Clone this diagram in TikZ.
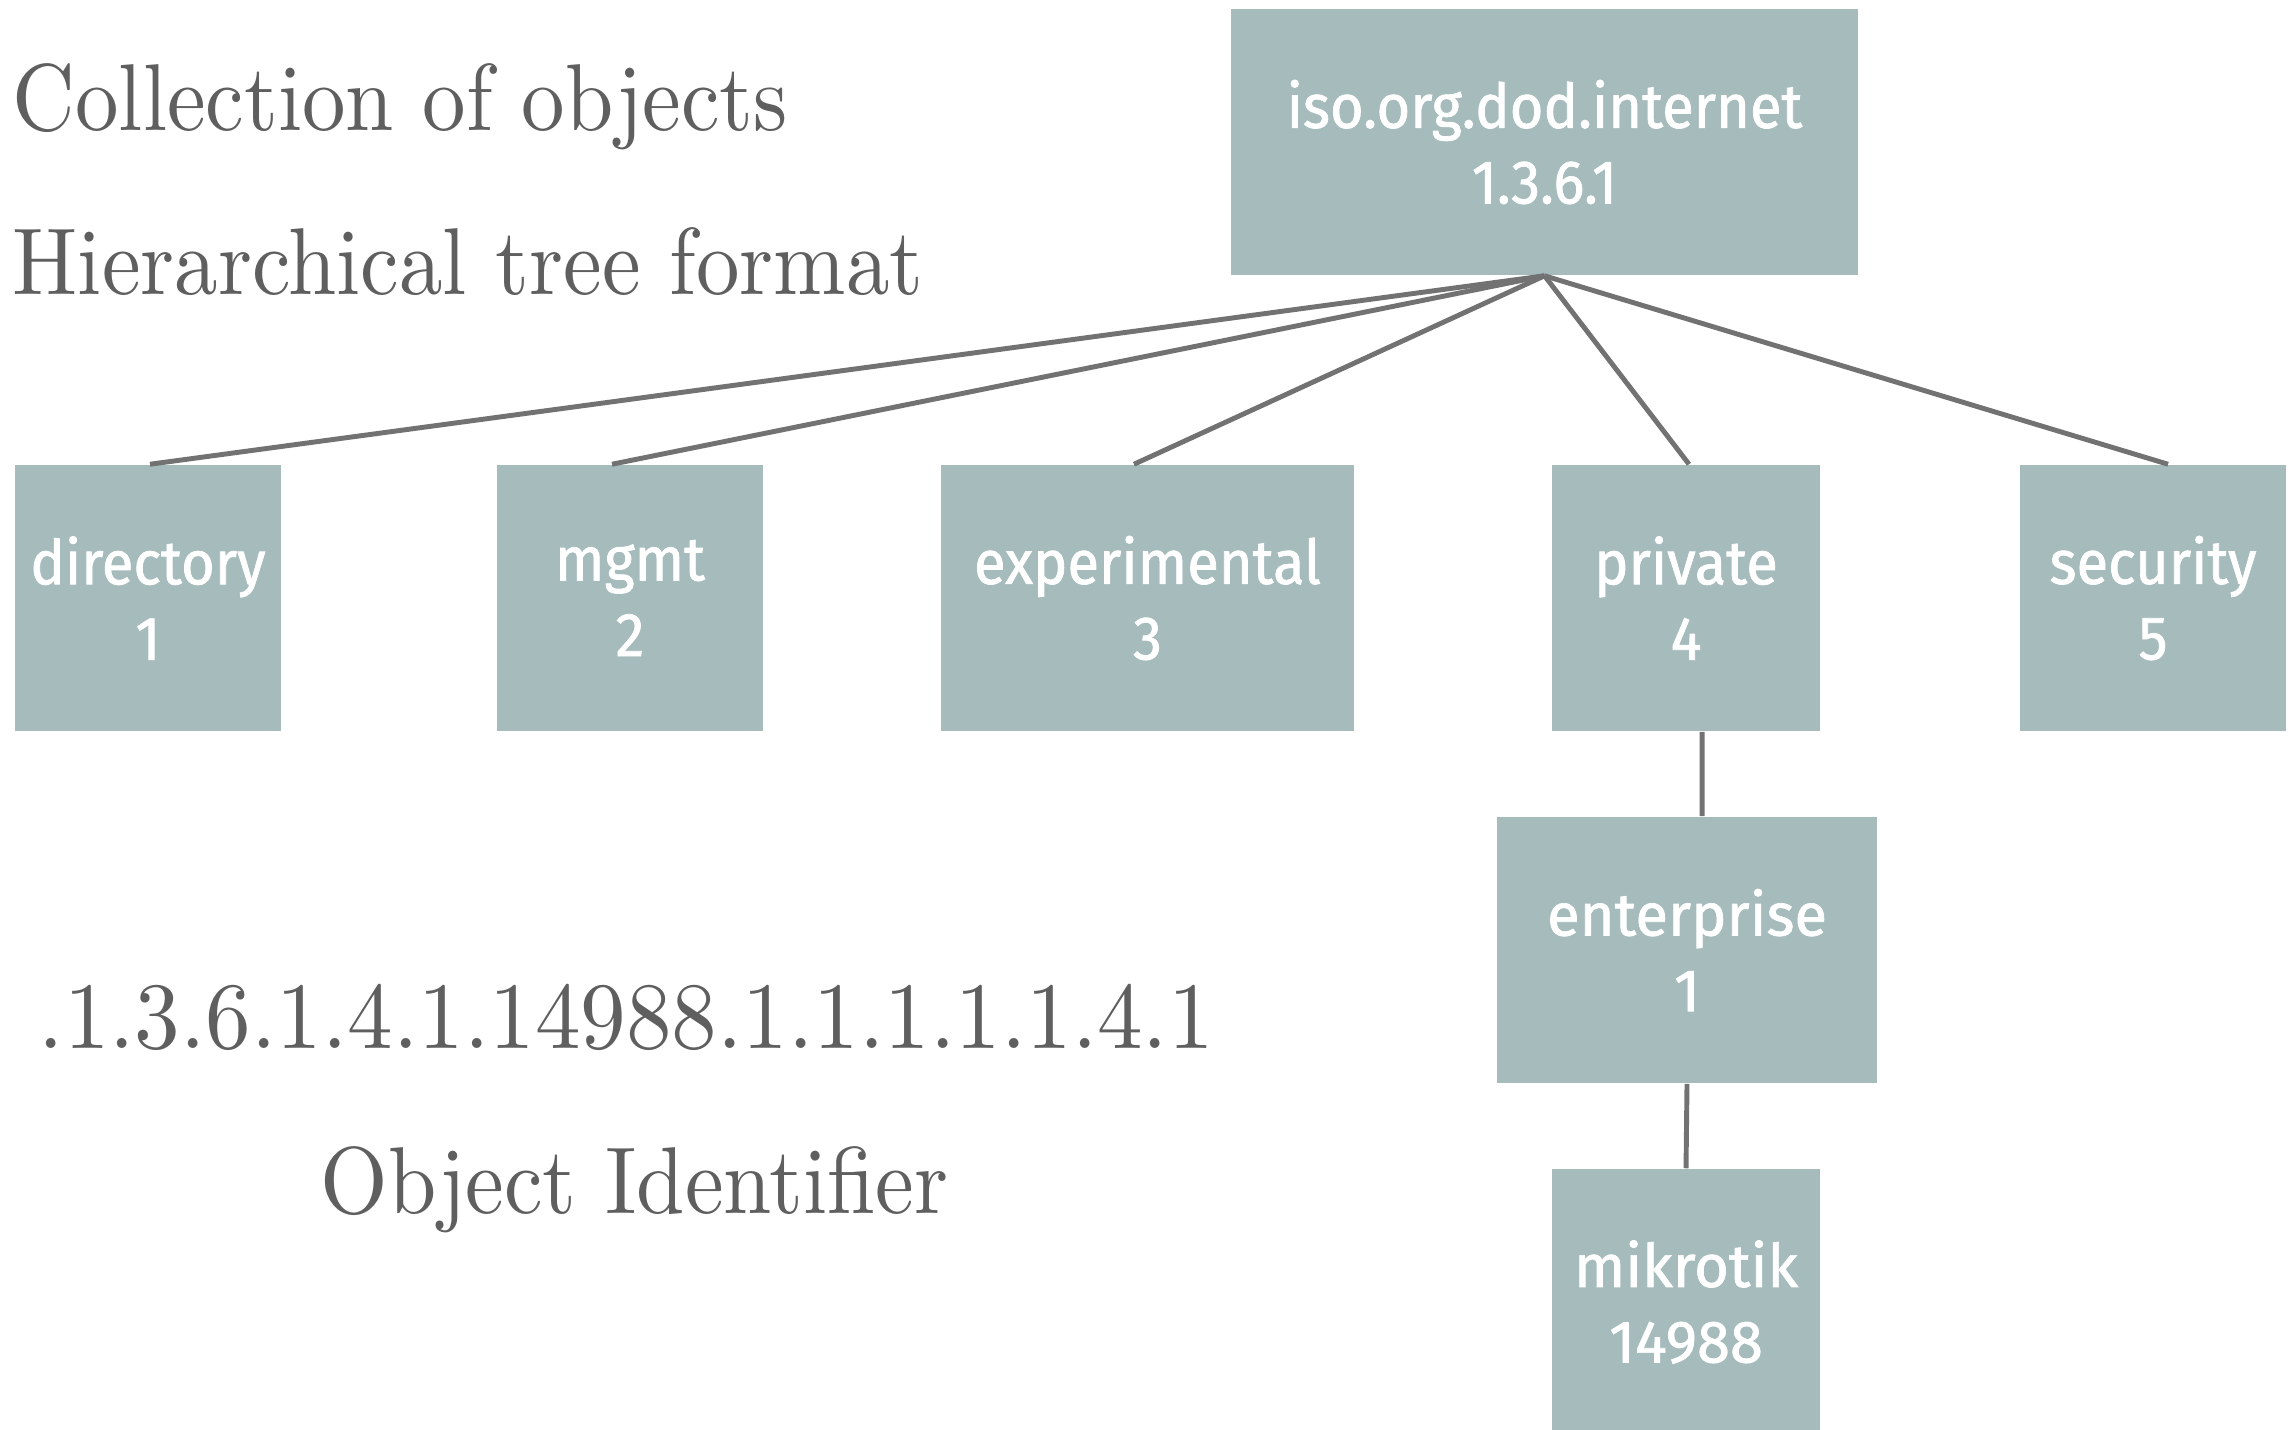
\documentclass[tikz,border=0pt]{standalone}
\usepackage{fontspec}
\newfontfamily\dinfont[FakeStretch=0.94, FakeBold=1.2]{Fira Sans}
\newfontfamily\roundfont[FakeBold=1.2]{Fira Sans}
\newfontfamily\oidserif[FakeStretch=0.915]{lmroman10-regular.otf}
\newfontfamily\oiddigits[FakeStretch=0.96]{lmroman10-regular.otf}
\definecolor{boxc}{HTML}{A6BBBC}
\definecolor{linec}{HTML}{727272}
\definecolor{textc}{HTML}{5F5F5F}
\tikzset{
  oidbox/.style={fill=boxc, inner sep=0pt, minimum height=2.66cm, text=white,
    align=center, font=\dinfont\fontsize{17.5}{21.5}\selectfont},
  roundbox/.style={oidbox, font=\roundfont\fontsize{17}{21.5}\selectfont},
  link/.style={draw=linec, line width=1.4pt},
  caption/.style={anchor=base west, inner sep=0pt, text=textc,
    font=\oidserif\fontsize{27}{32}\selectfont},
  oidcaption/.style={caption, font=\oiddigits\fontsize{27}{32}\selectfont}
}
\begin{document}
\begin{tikzpicture}[x=0.01cm, y=-0.01cm]
  \useasboundingbox (0,0) rectangle (2292,1429);

  % captions on the left
  \node[caption] (coll) at (12,130) {Collection of objects};
  \node[caption] (hier) at (12,294) {Hierarchical tree format};
  \node[oidcaption] (oid) at (38,1048) {.1.3.6.1.4.1.14988.1.1.1.1.1.4.1};
  \node[caption] (oidname) at (320,1213) {Object Identifier};

  % tree of OID nodes
  \node[oidbox, minimum width=6.27cm] (root) at (1544.5,142) {iso.org.dod.internet\\1.3.6.1};
  \node[oidbox, minimum width=2.66cm] (dir) at (148,598) {directory\\1};
  \node[oidbox, minimum width=2.66cm] (mgmt) at (630,598) {mgmt\\2};
  \node[oidbox, minimum width=4.13cm] (exp) at (1147.5,598) {experimental\\3};
  \node[oidbox, minimum width=2.68cm] (priv) at (1686,598) {private\\4};
  \node[oidbox, minimum width=2.66cm] (sec) at (2153,598) {security\\5};
  \node[roundbox, minimum width=3.80cm] (ent) at (1687,950) {enterprise\\1};
  \node[roundbox, minimum width=2.68cm] (mik) at (1686,1302) {mikrotik\\14988};

  % connectors
  \draw[link] (root.south) -- ([xshift=0.02cm]dir.north);
  \draw[link] (root.south) -- ([xshift=-0.18cm]mgmt.north);
  \draw[link] (root.south) -- ([xshift=-0.135cm]exp.north);
  \draw[link] (root.south) -- ([xshift=0.03cm]priv.north);
  \draw[link] (root.south) -- ([xshift=0.15cm]sec.north);
  \draw[link] ([xshift=0.16cm]priv.south) -- ([xshift=0.15cm]ent.north);
  \draw[link] (ent.south) -- (mik.north);
\end{tikzpicture}
\end{document}
